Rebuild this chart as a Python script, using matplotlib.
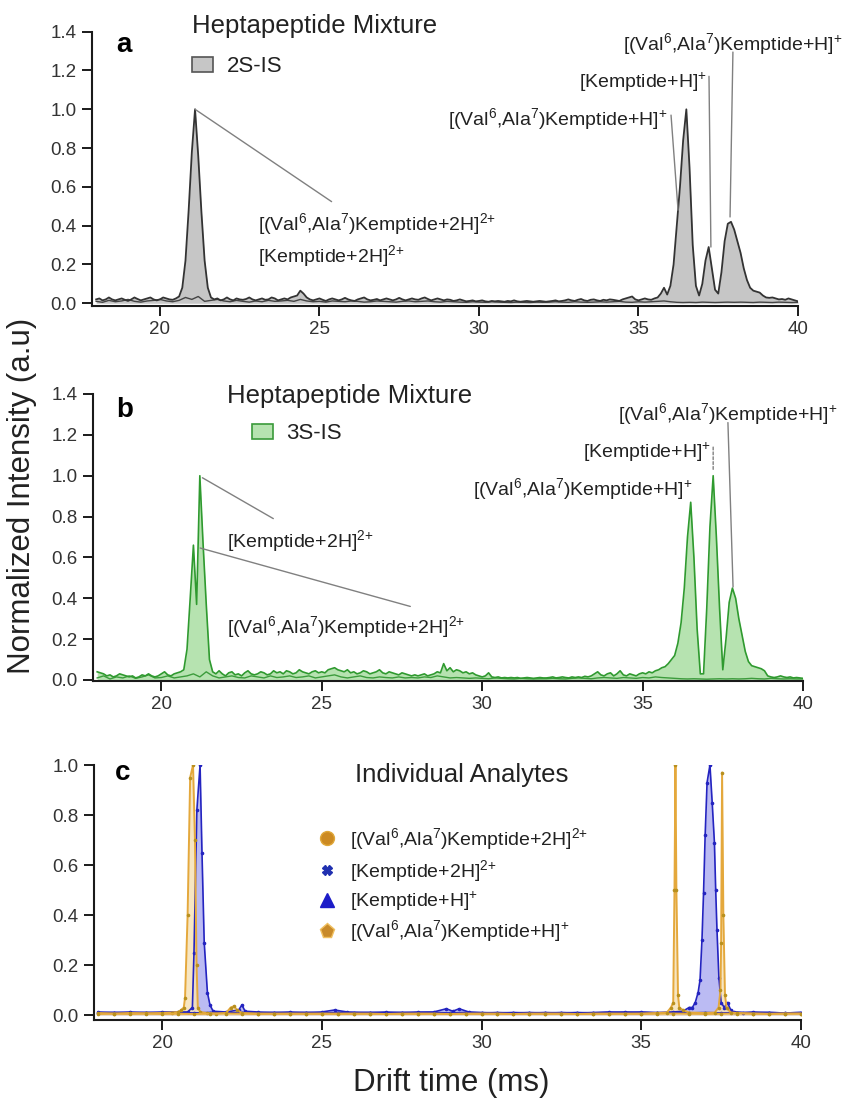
import numpy as np
import matplotlib
matplotlib.use("Agg")
import matplotlib.pyplot as plt
from matplotlib.patches import Patch
from matplotlib.lines import Line2D

plt.rcParams['font.family'] = ['Liberation Sans', 'DejaVu Sans']
plt.rcParams['mathtext.fontset'] = 'custom'
plt.rcParams['mathtext.rm'] = 'Liberation Sans'
plt.rcParams['mathtext.it'] = 'Liberation Sans:italic'
plt.rcParams['mathtext.bf'] = 'Liberation Sans:bold'
plt.rcParams['mathtext.default'] = 'regular'

# ---------------- labels ----------------
VAL_2H = r'[(Val$^{6}$,Ala$^{7}$)Kemptide+2H]$^{2{+}}$'
KEM_2H = r'[Kemptide+2H]$^{2{+}}$'
KEM_H = r'[Kemptide+H]$^{+}$'
VAL_H = r'[(Val$^{6}$,Ala$^{7}$)Kemptide+H]$^{+}$'
x_ticks = [20, 25, 30, 35, 40]
ya_ticks = [0.0, 0.2, 0.4, 0.6, 0.8, 1.0, 1.2, 1.4]
yc_ticks = [0.0, 0.2, 0.4, 0.6, 0.8, 1.0]

# ---------------- panel a data (drift time 18.0 .. 40.0, step 0.1) ----------------
a_main = [
    0.02, 0.025, 0.015, 0.02, 0.03, 0.02, 0.015, 0.02, 0.025, 0.018,
    0.012, 0.02, 0.03, 0.022, 0.015, 0.02, 0.025, 0.03, 0.02, 0.015,
    0.02, 0.03, 0.025, 0.02, 0.018, 0.025,
    0.035, 0.08, 0.22, 0.48, 0.78, 1.0, 0.76, 0.47, 0.22, 0.08, 0.03,
    0.02, 0.025, 0.015, 0.02, 0.03, 0.02, 0.015, 0.025, 0.02, 0.018,
    0.022, 0.03, 0.02, 0.015, 0.02, 0.025, 0.018, 0.02, 0.03, 0.025,
    0.015, 0.02, 0.025, 0.02, 0.03, 0.035,
    0.04, 0.065, 0.05, 0.03,
    0.02, 0.015, 0.02, 0.025, 0.018, 0.012, 0.02, 0.025, 0.02, 0.015,
    0.02, 0.028, 0.02, 0.015, 0.012, 0.02, 0.025, 0.03, 0.02, 0.015,
    0.018, 0.022, 0.015, 0.02, 0.025, 0.02, 0.015, 0.02, 0.028, 0.02,
    0.015, 0.02, 0.025, 0.02, 0.018, 0.025, 0.03, 0.022, 0.015, 0.02,
    0.025, 0.02, 0.015, 0.02, 0.018, 0.012, 0.015, 0.02, 0.015, 0.01,
    0.012, 0.015, 0.01, 0.012, 0.015, 0.01, 0.008, 0.012, 0.01, 0.012,
    0.01, 0.008, 0.012, 0.01, 0.015, 0.01, 0.008, 0.01, 0.012, 0.01,
    0.008, 0.01, 0.012, 0.01, 0.008, 0.01, 0.012, 0.015, 0.01, 0.012,
    0.015, 0.02, 0.015, 0.012, 0.018, 0.022, 0.015, 0.012, 0.018, 0.02,
    0.015, 0.012, 0.018, 0.015, 0.02, 0.018, 0.015, 0.012, 0.02, 0.025,
    0.03, 0.035, 0.02, 0.015, 0.02, 0.025, 0.02, 0.018, 0.025, 0.03,
    0.05, 0.08, 0.045, 0.09, 0.2, 0.4, 0.6, 0.84, 1.0, 0.7,
    0.3, 0.09, 0.04, 0.1, 0.22, 0.29, 0.18, 0.07, 0.05, 0.16,
    0.32, 0.41, 0.42, 0.38, 0.32, 0.26, 0.18, 0.12, 0.08, 0.065,
    0.06, 0.055, 0.04, 0.03, 0.028, 0.03, 0.025, 0.02, 0.022, 0.018,
    0.025, 0.02, 0.015, 0.01,
]
# second trace (step 0.2)
a_second = [
    0.01, 0.005, 0.015, 0.008, 0.012, 0.02, 0.01, 0.006, 0.012, 0.015,
    0.02, 0.012, 0.008, 0.015, 0.03, 0.02, 0.035, 0.01, 0.015, 0.02,
    0.012, 0.008, 0.015, 0.01, 0.006, 0.012, 0.008, 0.015, 0.01, 0.012,
    0.015, 0.01, 0.02, 0.012, 0.008, 0.01, 0.006, 0.012, 0.01, 0.008,
    0.012, 0.01, 0.006, 0.008, 0.012, 0.01, 0.008, 0.006, 0.01, 0.012,
    0.008, 0.01, 0.012, 0.008, 0.006, 0.01, 0.008, 0.006, 0.005, 0.008,
    0.006, 0.005, 0.008, 0.006, 0.005, 0.004, 0.006, 0.005, 0.004, 0.006,
    0.005, 0.006, 0.008, 0.006, 0.005, 0.008, 0.006, 0.005, 0.006, 0.008,
    0.006, 0.008, 0.01, 0.006, 0.005, 0.008, 0.006, 0.008, 0.01, 0.012,
    0.008, 0.005, 0.004, 0.005, 0.004, 0.006, 0.005, 0.004, 0.005, 0.006,
    0.005, 0.006, 0.005, 0.004, 0.006, 0.005, 0.004, 0.006, 0.005, 0.004,
    0.005,
]

# ---------------- panel b data ----------------
b_main = [
    0.04, 0.035, 0.03, 0.02, 0.025, 0.015, 0.02, 0.03, 0.025, 0.02,
    0.015, 0.02, 0.01, 0.015, 0.025, 0.02, 0.03, 0.02, 0.015, 0.02,
    0.03, 0.04, 0.025, 0.02, 0.03, 0.035, 0.04, 0.05, 0.15, 0.4,
    0.66, 0.37, 1.0, 0.67, 0.37, 0.1, 0.04, 0.03, 0.045, 0.03,
    0.02, 0.035, 0.04, 0.025, 0.03, 0.02, 0.035, 0.045, 0.03, 0.025,
    0.03, 0.04, 0.035, 0.025, 0.03, 0.045, 0.035, 0.04, 0.03, 0.045,
    0.04, 0.03, 0.035, 0.05, 0.04, 0.035, 0.03, 0.04, 0.045, 0.035,
    0.04, 0.035, 0.05, 0.055, 0.06, 0.05, 0.045, 0.04, 0.05, 0.035,
    0.04, 0.03, 0.035, 0.045, 0.04, 0.03, 0.035, 0.04, 0.05, 0.035,
    0.03, 0.04, 0.035, 0.03, 0.025, 0.035, 0.03, 0.025, 0.02, 0.025,
    0.02, 0.025, 0.03, 0.02, 0.025, 0.03, 0.04, 0.035, 0.08, 0.045,
    0.06, 0.04, 0.05, 0.045, 0.035, 0.04, 0.03, 0.035, 0.025, 0.02,
    0.015, 0.02, 0.035, 0.015, 0.012, 0.015, 0.01, 0.012, 0.01, 0.012,
    0.01, 0.012, 0.008, 0.01, 0.012, 0.01, 0.008, 0.01, 0.012, 0.01,
    0.01, 0.012, 0.015, 0.01, 0.012, 0.015, 0.012, 0.01, 0.015, 0.012,
    0.015, 0.012, 0.018, 0.015, 0.02, 0.03, 0.04, 0.025, 0.02, 0.03,
    0.035, 0.02, 0.03, 0.045, 0.025, 0.02, 0.03, 0.025, 0.02, 0.03,
    0.035, 0.03, 0.04, 0.035, 0.045,
    0.05, 0.06, 0.065, 0.08, 0.1, 0.12, 0.18, 0.28, 0.45, 0.7,
    0.87, 0.6, 0.25, 0.03, 0.03, 0.35, 0.75, 1.0, 0.7, 0.35,
    0.05, 0.2, 0.38, 0.45, 0.4, 0.3, 0.22, 0.14, 0.09, 0.07,
    0.065, 0.06, 0.055, 0.045, 0.02, 0.015, 0.012, 0.015, 0.02, 0.015,
    0.012, 0.015, 0.01, 0.012, 0.01, 0.008,
]
b_second = [
    0.01, 0.02, 0.005, 0.015, 0.01, 0.02, 0.008, 0.015, 0.025, 0.01,
    0.012, 0.02, 0.01, 0.015, 0.02, 0.03, 0.015, 0.04, 0.02, 0.01,
    0.015, 0.02, 0.012, 0.01, 0.02, 0.015, 0.01, 0.02, 0.012, 0.015,
    0.02, 0.012, 0.015, 0.02, 0.01, 0.015, 0.02, 0.025, 0.015, 0.01,
    0.015, 0.02, 0.012, 0.01, 0.015, 0.012, 0.01, 0.015, 0.01, 0.012,
    0.01, 0.015, 0.012, 0.02, 0.015, 0.01, 0.012, 0.01, 0.008, 0.01,
    0.008, 0.006, 0.01, 0.008, 0.006, 0.005, 0.008, 0.006, 0.005, 0.006,
    0.006, 0.008, 0.006, 0.005, 0.008, 0.01, 0.008, 0.006, 0.01, 0.012,
    0.01, 0.008, 0.012, 0.01, 0.008, 0.012, 0.01, 0.015, 0.012, 0.01,
    0.008, 0.006, 0.005, 0.006, 0.005, 0.004, 0.005, 0.006, 0.005, 0.006,
    0.005, 0.006, 0.008, 0.006, 0.005, 0.008, 0.006, 0.005, 0.006, 0.005,
    0.005,
]

# ---------------- panel c data ----------------
c_val2_x = [18.0, 18.5, 19.0, 19.5, 20.0, 20.3, 20.5, 20.6, 20.68, 20.72,
            20.8, 20.88, 20.97, 21.03, 21.08, 21.12, 21.2, 21.4, 21.7, 22.0,
            22.15, 22.25, 22.35, 22.5, 23.0, 23.5, 24.0, 24.5, 25.0, 25.5,
            26.0, 26.5, 27.0, 27.5, 28.0, 28.5, 29.0, 29.5, 30.0, 30.5,
            31.0, 31.5, 32.0, 32.5, 33.0, 33.5, 34.0, 34.5, 35.0, 35.5,
            36.0, 36.5, 37.0, 37.5, 38.0, 38.5, 39.0, 39.5, 40.0]
c_val2_y = [0.008, 0.006, 0.008, 0.007, 0.008, 0.01, 0.012, 0.02, 0.03, 0.07,
            0.4, 0.95, 1.0, 0.7, 0.2, 0.03, 0.012, 0.008, 0.006, 0.008,
            0.03, 0.035, 0.02, 0.008, 0.006, 0.005, 0.006, 0.005, 0.006, 0.005,
            0.006, 0.005, 0.004, 0.005, 0.006, 0.005, 0.004, 0.005, 0.006, 0.005,
            0.004, 0.005, 0.006, 0.005, 0.004, 0.005, 0.006, 0.005, 0.004, 0.005,
            0.006, 0.005, 0.004, 0.005, 0.006, 0.005, 0.004, 0.005, 0.006]
c_kem2_x = [18.0, 18.5, 19.0, 19.5, 20.0, 20.5, 20.8, 20.95, 21.0, 21.09,
            21.19, 21.25, 21.32, 21.42, 21.5, 21.6, 22.0, 22.4, 22.5, 22.6,
            23.0, 23.5, 24.0, 24.5, 25.0, 25.4, 25.8, 26.5, 27.0, 27.5,
            28.0, 28.5, 28.9, 29.1, 29.3, 29.6, 30.0, 30.5, 31.0, 31.5,
            32.0, 32.5, 33.0, 33.5, 34.0, 34.5, 35.0, 35.5, 36.0, 36.5,
            37.0, 37.5, 38.0, 38.5, 39.0, 39.5, 40.0]
c_kem2_y = [0.012, 0.01, 0.012, 0.01, 0.012, 0.012, 0.012, 0.03, 0.25, 0.82,
            1.0, 0.65, 0.29, 0.09, 0.04, 0.015, 0.012, 0.02, 0.04, 0.015,
            0.012, 0.01, 0.012, 0.01, 0.012, 0.02, 0.012, 0.01, 0.012, 0.01,
            0.012, 0.012, 0.025, 0.015, 0.025, 0.012, 0.01, 0.008, 0.01, 0.008,
            0.01, 0.008, 0.01, 0.008, 0.01, 0.012, 0.01, 0.008, 0.01, 0.008,
            0.01, 0.008, 0.01, 0.008, 0.01, 0.008, 0.01]
c_kemh_x = [18.0, 18.5, 19.0, 19.5, 20.0, 20.5, 21.0, 21.5, 22.0, 22.5,
            23.0, 23.5, 24.0, 24.5, 25.0, 25.5, 26.0, 26.5, 27.0, 27.5,
            28.0, 28.5, 29.0, 29.5, 30.0, 30.5, 31.0, 31.5, 32.0, 32.5,
            33.0, 33.5, 34.0, 34.5, 35.0, 35.5, 36.0, 36.3, 36.5, 36.6,
            36.69, 36.78, 36.84, 36.9, 36.95, 37.0, 37.06, 37.15, 37.22, 37.29,
            37.33, 37.37, 37.43, 37.5, 37.6, 37.7, 37.8, 37.9, 38.2, 38.5,
            39.0, 39.5, 40.0]
c_kemh_y = [0.008, 0.01, 0.008, 0.01, 0.008, 0.01, 0.008, 0.01, 0.008, 0.01,
            0.008, 0.01, 0.008, 0.01, 0.008, 0.01, 0.008, 0.01, 0.008, 0.01,
            0.008, 0.01, 0.008, 0.01, 0.008, 0.01, 0.008, 0.01, 0.008, 0.01,
            0.008, 0.01, 0.012, 0.01, 0.012, 0.01, 0.012, 0.015, 0.03, 0.03,
            0.05, 0.09, 0.14, 0.3, 0.49, 0.72, 0.93, 1.0, 0.85, 0.69,
            0.5, 0.34, 0.15, 0.05, 0.03, 0.05, 0.02, 0.012, 0.01, 0.012,
            0.01, 0.008, 0.01]
c_valh_x = [18.0, 18.5, 19.0, 19.5, 20.0, 20.5, 21.0, 21.5, 22.0, 22.5,
            23.0, 23.5, 24.0, 24.5, 25.0, 25.5, 26.0, 26.5, 27.0, 27.5,
            28.0, 28.5, 29.0, 29.5, 30.0, 30.5, 31.0, 31.5, 32.0, 32.5,
            33.0, 33.5, 34.0, 34.5, 35.0, 35.5, 35.8, 35.93, 36.0, 36.04,
            36.07, 36.1, 36.15, 36.19, 36.3, 36.5, 37.0, 37.3, 37.42, 37.48,
            37.5, 37.53, 37.57, 37.62, 37.67, 37.8, 38.0, 38.5, 39.0, 39.5,
            40.0]
c_valh_y = [0.004, 0.005, 0.004, 0.005, 0.004, 0.005, 0.004, 0.005, 0.006, 0.005,
            0.004, 0.005, 0.004, 0.005, 0.004, 0.005, 0.004, 0.005, 0.004, 0.005,
            0.004, 0.005, 0.004, 0.005, 0.004, 0.005, 0.004, 0.005, 0.004, 0.005,
            0.004, 0.005, 0.004, 0.005, 0.006, 0.008, 0.01, 0.03, 0.05, 0.5,
            1.0, 0.5, 0.08, 0.03, 0.02, 0.01, 0.008, 0.01, 0.03, 0.1,
            0.29, 0.97, 0.4, 0.08, 0.03, 0.01, 0.008, 0.006, 0.005, 0.006,
            0.005]

a_time = np.linspace(18.0, 40.0, len(a_main))
a_time2 = np.linspace(18.0, 40.0, len(a_second))
b_time = np.linspace(18.0, 40.0, len(b_main))
b_time2 = np.linspace(18.0, 40.0, len(b_second))

# ---------------- figure ----------------
W, H = 843, 1102
fig = plt.figure(figsize=(W / 100, H / 100), dpi=100)


def px_axes(l, r, b, t):
    return fig.add_axes([l / W, 1 - b / H, (r - l) / W, (b - t) / H])


def style(ax, yt):
    for s in ('top', 'right'):
        ax.spines[s].set_visible(False)
    for s in ('left', 'bottom'):
        ax.spines[s].set_linewidth(1.5)
        ax.spines[s].set_color('#1a1a1a')
    ax.set_xticks(x_ticks)
    ax.set_yticks(yt)
    ax.set_yticklabels([f'{v:.1f}' for v in yt])
    ax.tick_params(direction='out', length=7, width=1.4, labelsize=13.5,
                   labelcolor='#333333', color='#1a1a1a', pad=4)
    ax.set_xlim(17.87, 40)


ax_a = px_axes(92, 798, 306, 31.7)
ax_b = px_axes(93, 803, 681, 394)
ax_c = px_axes(94, 801, 1020, 765)

# panel a
ax_a.fill_between(a_time, a_main, 0, color='#c6c6c6', lw=0)
ax_a.plot(a_time2, a_second, color='#444444', lw=1.0)
ax_a.plot(a_time, a_main, color='#333333', lw=1.3)
style(ax_a, ya_ticks)
ax_a.set_ylim(-0.014, 1.4)

# panel b
ax_b.fill_between(b_time, b_main, 0, color='#b6e3b0', lw=0)
ax_b.plot(b_time2, b_second, color='#3c9c3c', lw=1.0)
ax_b.plot(b_time, b_main, color='#2f9a2f', lw=1.2)
style(ax_b, ya_ticks)
ax_b.set_ylim(-0.005, 1.4)

# panel c
blue = '#2424c0'
orange = '#e4a83c'
ax_c.fill_between(c_kem2_x, c_kem2_y, 0, color='#b4b4f2', lw=0, alpha=0.9)
ax_c.fill_between(c_kemh_x, c_kemh_y, 0, color='#b4b4f2', lw=0, alpha=0.9)
ax_c.plot(c_kem2_x, c_kem2_y, color=blue, lw=1.2, marker='o', ms=1.6)
ax_c.plot(c_kemh_x, c_kemh_y, color=blue, lw=1.2, marker='o', ms=1.6)
ax_c.fill_between(c_val2_x, c_val2_y, 0, color='#f6e2b8', lw=0, alpha=0.85)
ax_c.fill_between(c_valh_x, c_valh_y, 0, color='#f6e2b8', lw=0, alpha=0.85)
ax_c.plot(c_val2_x, c_val2_y, color=orange, lw=1.4, marker='o', ms=1.6, mfc='#b8901e', mec='#b8901e')
ax_c.plot(c_valh_x, c_valh_y, color=orange, lw=1.4, marker='o', ms=1.6, mfc='#b8901e', mec='#b8901e')
style(ax_c, yc_ticks)
ax_c.set_ylim(-0.02, 1.0)

# ---------------- text ----------------
txt_kw = dict(fontsize=14, color='#222222', va='baseline', ha='left')
line_kw = dict(arrowstyle='-', color='#808080', lw=1.0, shrinkA=0, shrinkB=0)

# panel a annotations
ax_a.text(23.07, 0.378, VAL_2H, **txt_kw)
ax_a.text(23.07, 0.213, KEM_2H, **txt_kw)
ax_a.text(34.51, 1.306, VAL_H, clip_on=False, **txt_kw)
ax_a.text(33.13, 1.11, KEM_H, **txt_kw)
ax_a.text(29.03, 0.919, VAL_H, **txt_kw)
ax_a.annotate('', xy=(21.1, 1.0), xytext=(25.38, 0.524), arrowprops=line_kw)
ax_a.annotate('', xy=(37.87, 0.445), xytext=(37.96, 1.295), arrowprops=line_kw)
ax_a.annotate('', xy=(37.27, 0.29), xytext=(37.21, 1.17), arrowprops=line_kw)
ax_a.annotate('', xy=(36.24, 0.48), xytext=(36.02, 0.97), arrowprops=line_kw)

# panel b annotations
ax_b.text(22.06, 0.651, KEM_2H, **txt_kw)
ax_b.text(22.06, 0.23, VAL_2H, **txt_kw)
ax_b.text(34.24, 1.273, VAL_H, **txt_kw)
ax_b.text(33.15, 1.087, KEM_H, **txt_kw)
ax_b.text(29.72, 0.906, VAL_H, **txt_kw)
ax_b.annotate('', xy=(21.28, 0.99), xytext=(23.49, 0.79), arrowprops=line_kw)
ax_b.annotate('', xy=(21.21, 0.646), xytext=(27.76, 0.36), arrowprops=line_kw)
ax_b.annotate('', xy=(37.82, 0.455), xytext=(37.66, 1.26), arrowprops=line_kw)
ax_b.annotate('', xy=(37.2, 1.03), xytext=(37.2, 1.14),
              arrowprops=dict(line_kw, linestyle=(0, (2, 1.5))))

# panel letters and titles
for lab, (x, y) in {'a': (116, 52), 'b': (116, 417), 'c': (115, 780)}.items():
    fig.text(x / W, 1 - y / H, lab, fontsize=20, fontweight='bold', va='baseline', ha='left')
fig.text(191.7 / W, 1 - 33 / H, 'Heptapeptide Mixture', fontsize=18.5, color='#222222', va='baseline')
fig.text(226.7 / W, 1 - 403 / H, 'Heptapeptide Mixture', fontsize=18.5, color='#222222', va='baseline')
fig.text(355 / W, 1 - 781.7 / H, 'Individual Analytes', fontsize=18.5, color='#222222', va='baseline')

# legends
leg_a = ax_a.legend(handles=[Patch(fc='#c6c6c6', ec='#555555', lw=1.2)], labels=['2S-IS'],
                    loc='upper left', bbox_to_anchor=(191.7 / W, 1 - 56 / H), bbox_transform=fig.transFigure,
                    frameon=False, borderpad=0, borderaxespad=0, handlelength=0.97, handleheight=0.68,
                    handletextpad=0.6, fontsize=16)
leg_b = ax_b.legend(handles=[Patch(fc='#b6e3b0', ec='#3a9a3a', lw=1.2)], labels=['3S-IS'],
                    loc='upper left', bbox_to_anchor=(251.7 / W, 1 - 423 / H), bbox_transform=fig.transFigure,
                    frameon=False, borderpad=0, borderaxespad=0, handlelength=0.97, handleheight=0.68,
                    handletextpad=0.6, fontsize=16)
for leg in (leg_a, leg_b):
    for t in leg.get_texts():
        t.set_color('#222222')

c_handles = [
    Line2D([], [], ls='none', marker='o', ms=10, mfc='#cc8a22', mec='#e0a83a'),
    Line2D([], [], ls='none', marker='X', ms=7, mfc='#2030b0', mec='#2030b0'),
    Line2D([], [], ls='none', marker='^', ms=10, mfc='#1c1cc8', mec='#1c1cc8'),
    Line2D([], [], ls='none', marker='p', ms=11, mfc='#c88a2a', mec='#f0c060'),
]
leg_c = ax_c.legend(handles=c_handles, labels=[VAL_2H, KEM_2H, KEM_H, VAL_H],
                    loc='upper left', bbox_to_anchor=(317.3 / W, 1 - 826 / H), bbox_transform=fig.transFigure,
                    frameon=False, borderpad=0, borderaxespad=0, handlelength=1.0, handletextpad=0.69,
                    labelspacing=0.3, fontsize=14)
for t in leg_c.get_texts():
    t.set_color('#222222')

# axis labels
fig.text(22 / W, 1 - 496 / H, 'Normalized Intensity (a.u)', rotation=90, fontsize=22.5,
         color='#222222', ha='center', va='center')
fig.text(451 / W, 1 - 1083 / H, 'Drift time (ms)', fontsize=22.5, color='#222222', ha='center', va='center')

fig.savefig('out.png', dpi=100)
